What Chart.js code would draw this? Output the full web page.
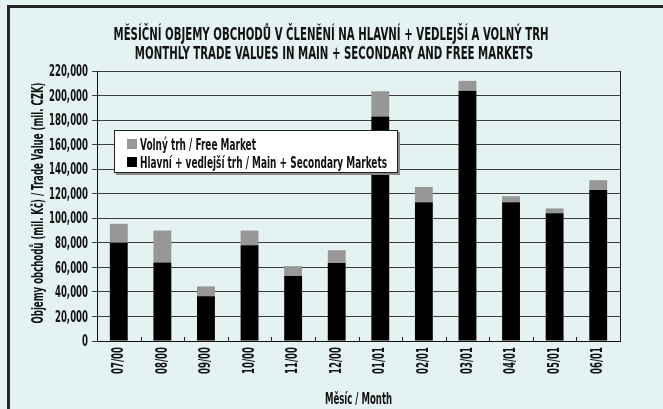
<!DOCTYPE html>
<html>
<head>
<meta charset="utf-8">
<script src="https://cdn.jsdelivr.net/npm/chart.js@4.4.1/dist/chart.umd.min.js"></script>
<style>
  html, body { margin: 0; padding: 0; background: #e4f2f2; }
  #wrap { width: 663px; height: 409px; }
</style>
</head>
<body>
<div id="wrap"><canvas id="tradeChart" width="663" height="409"></canvas></div>
<script>
// data (mil. CZK)
const months = ['07/00', '08/00', '09/00', '10/00', '11/00', '12/00', '01/01', '02/01', '03/01', '04/01', '05/01', '06/01'];
const mainMarket = [80000, 64000, 36500, 78000, 53000, 63500, 183000, 113000, 204000, 113000, 104000, 123000];
const freeMarket = [15500, 26000, 8000, 12000, 8000, 10500, 20500, 12500, 8000, 5000, 4000, 8000];
const yTickValues = [0, 20000, 40000, 60000, 80000, 100000, 120000, 140000, 160000, 180000, 200000, 220000];

const titleLines = [
    'MĚSÍČNÍ OBJEMY OBCHODŮ V ČLENĚNÍ NA HLAVNÍ + VEDLEJŠÍ A VOLNÝ TRH',
    'MONTHLY TRADE VALUES IN MAIN + SECONDARY AND FREE MARKETS'
];
const xTitle = 'Měsíc / Month';
const yTitle = 'Objemy obchodů (mil. Kč) / Trade Value (mil. CZK)';
const seriesLabels = ['Hlavní + vedlejší trh / Main + Secondary Markets', 'Volný trh / Free Market'];

const FONT = '"Liberation Sans Narrow", "DejaVu Sans Condensed", "Roboto Condensed", "Liberation Sans", sans-serif';
const BG = '#e4f2f2';
const INK = '#111111';

// the original uses a very condensed face, so text is squeezed sideways
function squeezed(ctx, text, x, y, size, sx, align, baseline) {
    ctx.save();
    ctx.font = 'bold ' + size + 'px ' + FONT;
    ctx.textBaseline = baseline || 'alphabetic';
    ctx.textAlign = align || 'left';
    ctx.translate(x, y);
    ctx.scale(sx, 1);
    ctx.fillText(text, 0, 0);
    ctx.restore();
}

function widthOf(ctx, text, size) {
    ctx.save();
    ctx.font = 'bold ' + size + 'px ' + FONT;
    const w = ctx.measureText(text).width;
    ctx.restore();
    return w;
}

const fmt = v => v.toLocaleString('en-US');

const decorPlugin = {
    id: 'decor',
    beforeDraw(chart) {
        const ctx = chart.ctx;
        ctx.save();
        ctx.fillStyle = BG;
        ctx.fillRect(0, 0, chart.width, chart.height);
        // frame, only top and left edges show
        ctx.fillStyle = '#262626';
        ctx.fillRect(7, 5, chart.width - 7, 3);
        ctx.fillRect(7, 5, 3, chart.height - 5);
        ctx.restore();
    },
    afterDatasetsDraw(chart) {
        const ctx = chart.ctx;
        const area = chart.chartArea;
        const x = chart.scales.x;
        ctx.save();
        ctx.strokeStyle = '#222';
        ctx.lineWidth = 1;
        // right edge of plot
        ctx.beginPath();
        ctx.moveTo(area.right + 0.5, area.top);
        ctx.lineTo(area.right + 0.5, area.bottom);
        ctx.stroke();
        // small inward ticks between categories
        ctx.beginPath();
        for (let i = 1; i < months.length; i++) {
            const px = Math.round((x.getPixelForValue(i - 1) + x.getPixelForValue(i)) / 2) + 0.5;
            ctx.moveTo(px, area.bottom);
            ctx.lineTo(px, area.bottom - 4);
        }
        ctx.stroke();
        ctx.restore();
    },
    afterDraw(chart) {
        const ctx = chart.ctx;
        const area = chart.chartArea;
        const xs = chart.scales.x;
        const ys = chart.scales.y;
        ctx.save();
        ctx.fillStyle = INK;

        // tick labels, placed by the scales
        const tSizeTick = 16;
        const tickSx = 39 / widthOf(ctx, '220,000', tSizeTick);
        ys.ticks.forEach(t => {
            squeezed(ctx, fmt(t.value), area.left - 9, ys.getPixelForValue(t.value) + 1, tSizeTick, tickSx, 'right', 'middle');
        });
        months.forEach((m, i) => {
            ctx.save();
            ctx.translate(xs.getPixelForValue(i), area.bottom + 6);
            ctx.rotate(-Math.PI / 2);
            squeezed(ctx, m, 0, 0, tSizeTick, tickSx, 'right', 'middle');
            ctx.restore();
        });

        // title
        const tSize = 17;
        const tScale = 435 / widthOf(ctx, titleLines[0], tSize);
        squeezed(ctx, titleLines[0], 331, 40, tSize, tScale, 'center');
        squeezed(ctx, titleLines[1], 334, 59, tSize, tScale, 'center');

        // axis titles
        const aSize = 16;
        const aScale = 241 / widthOf(ctx, yTitle, aSize);
        squeezed(ctx, xTitle, (area.left + area.right) / 2, 404, aSize, aScale, 'center');
        ctx.save();
        ctx.translate(39, 203);
        ctx.rotate(-Math.PI / 2);
        squeezed(ctx, yTitle, 0, 0, aSize, aScale, 'center', 'middle');
        ctx.restore();

        // legend box, drawn over the bars
        const bx = 114, by = 130, bw = 284, bh = 43;
        ctx.fillStyle = '#8a8a8a';
        ctx.fillRect(bx + 2, by + 2, bw, bh);
        ctx.fillStyle = '#ffffff';
        ctx.fillRect(bx, by, bw, bh);
        ctx.strokeStyle = '#222';
        ctx.lineWidth = 1;
        ctx.strokeRect(bx + 0.5, by + 0.5, bw - 1, bh - 1);
        const lSize = 16;
        const lScale = 247 / widthOf(ctx, seriesLabels[0], lSize);
        const ds = chart.data.datasets;
        for (let k = 0; k < ds.length; k++) {
            const d = ds[ds.length - 1 - k];
            const cy = by + 14 + k * 18;
            ctx.fillStyle = d.backgroundColor;
            ctx.fillRect(bx + 13, cy - 5, 10, 10);
            ctx.fillStyle = INK;
            squeezed(ctx, d.label, bx + 26, cy + 6, lSize, lScale, 'left');
        }
        ctx.restore();
    }
};

const ctx = document.getElementById('tradeChart');

new Chart(ctx, {
    type: 'bar',
    data: {
        labels: months,
        datasets: [{
            label: seriesLabels[0],
            data: mainMarket,
            backgroundColor: '#000000',
            barPercentage: 0.82,
            categoryPercentage: 0.5
        }, {
            label: seriesLabels[1],
            data: freeMarket,
            backgroundColor: '#979797',
            barPercentage: 0.82,
            categoryPercentage: 0.5
        }]
    },
    options: {
        responsive: false,
        animation: false,
        devicePixelRatio: 1,
        layout: { padding: { top: 71, right: 43, left: 0, bottom: 0 } },
        plugins: {
            legend: { display: false },
            title: { display: false },
            tooltip: { enabled: false }
        },
        scales: {
            x: {
                stacked: true,
                grid: { drawOnChartArea: false, drawTicks: false },
                border: { color: '#111', width: 1 },
                ticks: { display: false },
                afterFit(scale) { scale.height = 68; }
            },
            y: {
                stacked: true,
                min: 0,
                max: 220000,
                afterBuildTicks(scale) {
                    scale.ticks = yTickValues.map(v => ({ value: v }));
                },
                grid: { color: '#3c3c3c', lineWidth: 1, tickLength: 5 },
                border: { color: '#111', width: 1 },
                ticks: { display: false },
                afterFit(scale) { scale.width = 97; }
            }
        }
    },
    plugins: [decorPlugin]
});
</script>
</body>
</html>
